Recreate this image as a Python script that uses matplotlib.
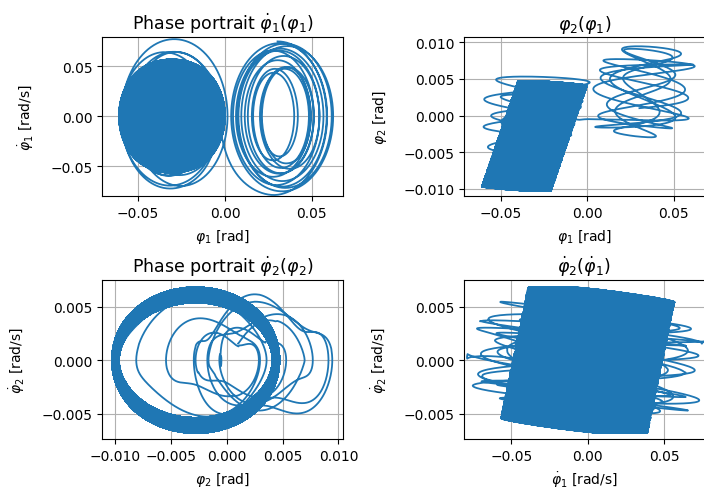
import numpy as np
import matplotlib.pyplot as plt

# first rest position (phi1, phi2) and the steady one after the jump
phi1_rest = [0.032, -0.0305]
phi2_rest_a = 0.0033
phi2_rest_steady = -0.0028

# per cycle, around the first rest position
phi1_swing_a = [0.027, 0.026, 0.024, 0.021, 0.017, 0.014, 0.012,
                0.012, 0.014, 0.018, 0.022, 0.025, 0.028, 0.030]
phi2_swing_a = [0.0035, 0.0042, 0.0050, 0.0056, 0.0060, 0.0062, 0.0062,
                0.0060, 0.0056, 0.0052, 0.0048, 0.0045, 0.0042, 0.0040]
fast_freq_a = [2.7, 2.7, 2.8, 2.9, 3.1, 3.4, 3.7,
               3.7, 3.4, 3.0, 2.8, 2.7, 2.6, 2.6]
# per cycle, while drifting over to the second rest position
phi1_swing_b = [0.028, 0.026, 0.025, 0.024, 0.024, 0.023, 0.022, 0.021,
                0.019, 0.017, 0.0155, 0.0146]
phi1_beat_b = [0.000, 0.0005, 0.001, 0.0015, 0.002, 0.0025, 0.003, 0.0035,
               0.004, 0.0045, 0.005, 0.0055]
phi2_rest_b = [0.0020, 0.0012, 0.0005, -0.0002, -0.0008, -0.0013,
               -0.0018, -0.0022, -0.0025, -0.0027, -0.0028, -0.0028]
phi2_swing_b = [0.0038, 0.0034, 0.0030, 0.0030, 0.0034, 0.0040,
                0.0047, 0.0054, 0.0060, 0.0065, 0.0069, 0.0072]
fast_freq_b = [2.6, 2.55, 2.5, 2.5, 2.45, 2.45, 2.4, 2.4, 2.38, 2.37, 2.36, 2.35]
# steady motion
phi1_swing_steady = 0.0145
phi1_beat_steady = 0.0055
phi2_swing_steady = 0.0072
fast_freq_steady = 2.35
n_steady = 2000

beat_ratio = 1.07
slow_freq = 0.85
slow_phase0 = 5.6
coupling = [0.8, 1.45]
phi2_fast = 0.0003

pts = 100
n_a = len(phi1_swing_a)
n_b = len(phi1_swing_b) + n_steady
n = n_a + n_b

amp_main = phi1_swing_a + phi1_swing_b + [phi1_swing_steady] * n_steady
amp_beat = [0.0] * n_a + phi1_beat_b + [phi1_beat_steady] * n_steady
amp_slow = phi2_swing_a + phi2_swing_b + [phi2_swing_steady] * n_steady
rest2 = [phi2_rest_a] * n_a + phi2_rest_b + [phi2_rest_steady] * n_steady
freq = fast_freq_a + fast_freq_b + [fast_freq_steady] * n_steady

theta = np.linspace(0, 2 * np.pi * n, n * pts + 1)
cyc = theta / (2 * np.pi)
centres = np.arange(n) + 0.5
a1 = np.interp(cyc, centres, amp_main)
b1 = np.interp(cyc, centres, amp_beat)
a2 = np.interp(cyc, centres, amp_slow)
c2 = np.interp(cyc, centres, rest2)
omega = np.interp(cyc, centres, freq)

# jump at the left turning point of the last cycle
theta_s = 2 * np.pi * (n_a - 1) + 1.5 * np.pi
w1 = 0.5 * (1 + np.tanh((theta - theta_s) / 0.5))

t = np.concatenate([[0], np.cumsum(np.diff(theta) / omega[1:])])
slow = slow_freq * t + slow_phase0

phi2 = c2 + a2 * np.sin(slow) - phi2_fast * (1 - 2 * w1) * np.sin(theta + 0.3)

phi1_a = phi1_rest[0] + coupling[0] * a2 * np.sin(slow) + a1 * np.sin(theta)
phi1_b = (phi1_rest[1] + coupling[1] * a2 * np.sin(slow) - a1 * np.sin(theta)
          - b1 * np.sin(beat_ratio * theta))
phi1 = (1 - w1) * phi1_a + w1 * phi1_b

dphi1 = np.gradient(phi1, t)
dphi2 = np.gradient(phi2, t)

plt.rcParams['font.size'] = 10
plt.rcParams['axes.titlesize'] = 12.5
plt.rcParams['axes.labelpad'] = 5
fig = plt.figure(figsize=(7.04, 4.89), dpi=100)
ax1 = fig.add_axes([0.145, 0.597, 0.342, 0.325])
ax2 = fig.add_axes([0.659, 0.597, 0.342, 0.325])
ax3 = fig.add_axes([0.145, 0.100, 0.342, 0.325])
ax4 = fig.add_axes([0.659, 0.100, 0.342, 0.325])

lw = 1.3
ax1.plot(phi1, dphi1, lw=lw)
ax1.set_title(r'Phase portrait $\dot{\varphi}_1(\varphi_1)$')
ax1.set_xlabel(r'$\varphi_1$ [rad]')
ax1.set_ylabel(r'$\dot{\varphi}_1$ [rad/s]', labelpad=10)
ax1.set_xlim(-0.0707, 0.0678)
ax1.set_ylim(-0.080, 0.079)
ax1.set_xticks([-0.05, 0.0, 0.05])
ax1.set_yticks([-0.05, 0.0, 0.05])

ax2.plot(phi1, phi2, lw=lw)
ax2.set_title(r'$\varphi_2(\varphi_1)$')
ax2.set_xlabel(r'$\varphi_1$ [rad]')
ax2.set_ylabel(r'$\varphi_2$ [rad]', labelpad=10)
ax2.set_xlim(-0.0713, 0.0680)
ax2.set_ylim(-0.0110, 0.0107)
ax2.set_xticks([-0.05, 0.0, 0.05])
ax2.set_yticks([-0.010, -0.005, 0.0, 0.005, 0.010])

ax3.plot(phi2, dphi2, lw=lw)
ax3.set_title(r'Phase portrait $\dot{\varphi}_2(\varphi_2)$')
ax3.set_xlabel(r'$\varphi_2$ [rad]')
ax3.set_ylabel(r'$\dot{\varphi}_2$ [rad/s]', labelpad=10)
ax3.set_xlim(-0.0112, 0.0104)
ax3.set_ylim(-0.0074, 0.0075)
ax3.set_xticks([-0.010, -0.005, 0.0, 0.005, 0.010])
ax3.set_yticks([-0.005, 0.0, 0.005])

ax4.plot(dphi1, dphi2, lw=lw)
ax4.set_title(r'$\dot{\varphi}_2(\dot{\varphi}_1)$')
ax4.set_xlabel(r'$\dot{\varphi}_1$ [rad/s]')
ax4.set_ylabel(r'$\dot{\varphi}_2$ [rad/s]', labelpad=10)
ax4.set_xlim(-0.081, 0.0765)
ax4.set_ylim(-0.0074, 0.0075)
ax4.set_xticks([-0.05, 0.0, 0.05])
ax4.set_yticks([-0.005, 0.0, 0.005])

for ax in (ax1, ax2, ax3, ax4):
    ax.grid(True)

fig.savefig('out.png', dpi=100)
